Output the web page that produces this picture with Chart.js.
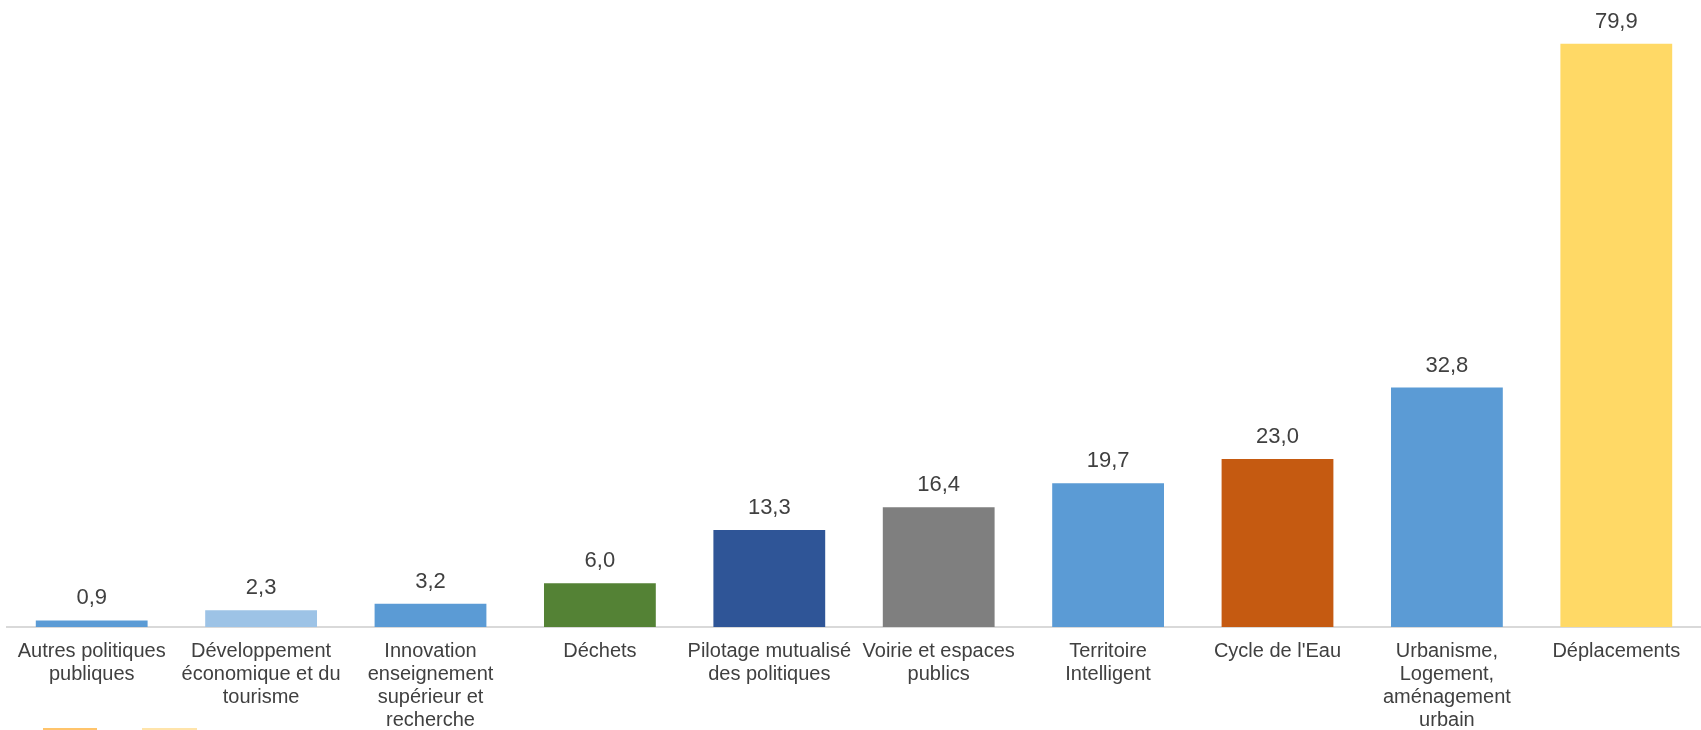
<!DOCTYPE html>
<html>
<head>
<meta charset="utf-8">
<script src="https://cdn.jsdelivr.net/npm/chart.js@4/dist/chart.umd.min.js"></script>
<style>
  html, body { margin: 0; padding: 0; background: #fff; }
  #wrap { width: 1701px; height: 730px; position: relative; }
</style>
</head>
<body>
<div id="wrap"><canvas id="budgetChart"></canvas></div>
<script>
// Budget par politique publique
const categories = [
  ['Autres politiques', 'publiques'],
  ['Développement', 'économique et du', 'tourisme'],
  ['Innovation', 'enseignement', 'supérieur et', 'recherche'],
  'Déchets',
  ['Pilotage mutualisé', 'des politiques'],
  ['Voirie et espaces', 'publics'],
  ['Territoire', 'Intelligent'],
  "Cycle de l'Eau",
  ['Urbanisme,', 'Logement,', 'aménagement', 'urbain'],
  'Déplacements'
];
const values = [0.9, 2.3, 3.2, 6.0, 13.3, 16.4, 19.7, 23.0, 32.8, 79.9];
const barColors = [
  '#5B9BD5', '#9DC3E6', '#5B9BD5', '#548235', '#2F5597',
  '#7F7F7F', '#5B9BD5', '#C55A11', '#5B9BD5', '#FFD966'
];

// value labels above each bar, French decimal comma
const valueLabels = {
  id: 'valueLabels',
  afterDatasetsDraw(chart) {
    const ctx = chart.ctx;
    const meta = chart.getDatasetMeta(0);
    ctx.save();
    ctx.font = '22px "Liberation Sans", Arial, sans-serif';
    ctx.fillStyle = '#404040';
    ctx.textAlign = 'center';
    ctx.textBaseline = 'alphabetic';
    meta.data.forEach((bar, i) => {
      ctx.fillText(values[i].toFixed(1).replace('.', ','), bar.x, bar.y - 16);
    });
    ctx.restore();
  }
};

// bits of a legend cut off at the bottom edge of the original
const legendStub = {
  id: 'legendStub',
  afterDraw(chart) {
    const ctx = chart.ctx;
    ctx.save();
    ctx.fillStyle = '#FFC46B';
    ctx.fillRect(43, 728, 54, 2);
    ctx.fillStyle = '#FFE4AA';
    ctx.fillRect(142, 728, 55, 2);
    ctx.restore();
  }
};

new Chart(document.getElementById('budgetChart'), {
  type: 'bar',
  data: {
    labels: categories,
    datasets: [{
      data: values,
      backgroundColor: barColors,
      borderWidth: 0,
      barPercentage: 0.66,
      categoryPercentage: 1
    }]
  },
  options: {
    responsive: true,
    maintainAspectRatio: false,
    animation: false,
    devicePixelRatio: 1,
    layout: {
      padding: { top: 43, left: 7, right: 0, bottom: -15 }
    },
    plugins: {
      legend: { display: false },
      tooltip: { enabled: false }
    },
    scales: {
      x: {
        grid: { display: false, drawTicks: false },
        border: { display: true, color: '#D9D9D9', width: 2 },
        ticks: {
          color: '#404040',
          padding: 13,
          maxRotation: 0,
          autoSkip: false,
          font: { family: '"Liberation Sans", Arial, sans-serif', size: 20, lineHeight: 1.15 }
        }
      },
      y: {
        display: false,
        min: 0,
        max: 80
      }
    }
  },
  plugins: [valueLabels, legendStub]
});
</script>
</body>
</html>
